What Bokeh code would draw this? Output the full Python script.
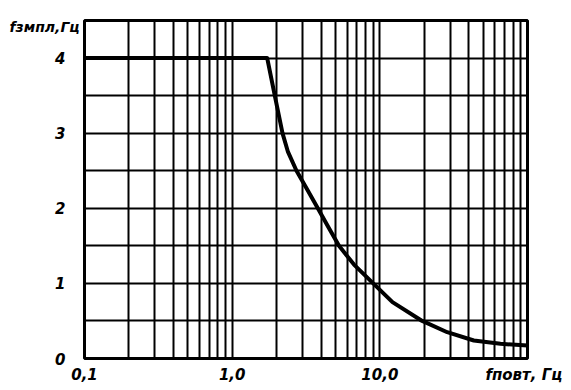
from bokeh.plotting import figure
from bokeh.models import FixedTicker
from bokeh.embed import file_html
from bokeh.resources import INLINE

# repetition frequency, Hz (log axis)
f_povt = [0.1, 1.727, 1.944, 2.192, 2.388, 2.727, 3.223, 3.802, 4.477, 5.289,
          6.683, 9.016, 12.18, 19.36, 28.6, 43.3, 65.6, 100.0]
# resulting frequency, Hz
f_zmpl = [4.0, 4.0, 3.5, 3.0, 2.75, 2.5, 2.25, 2.0, 1.75, 1.5,
          1.25, 1.0, 0.75, 0.5, 0.35, 0.24, 0.196, 0.173]

x_major = [0.1, 1, 10, 100]
x_minor = [0.2, 0.3, 0.4, 0.5, 0.6, 0.7, 0.8, 0.9,
           2, 3, 4, 5, 6, 7, 8, 9,
           20, 30, 40, 50, 60, 70, 80, 90]
x_tick_labels = {0.1: "0,1", 1: "1,0", 10: "10,0"}
y_major = [0, 1, 2, 3, 4]
y_minor = [0.5, 1.5, 2.5, 3.5, 4.5]
y_tick_labels = {0: "0", 1: "1", 2: "2", 3: "3", 4: "4"}
x_title = "fповт, Гц"
x_title_at = 94.5          # where the x title sits along the axis
y_title = "fзмпл,Гц"

FONT = "DejaVu Sans"

p = figure(width=570, height=388, x_axis_type="log",
           x_range=(0.1, 100), y_range=(0, 4.5),
           output_backend="svg", toolbar_location=None,
           min_border_left=84, min_border_right=43,
           min_border_top=20, min_border_bottom=30)
p.background_fill_color = "white"
p.border_fill_color = "white"
p.outline_line_color = "black"
p.outline_line_width = 3

# grid: every 1..9 per decade, every 0.5 vertically
p.xgrid.ticker = FixedTicker(ticks=x_major, minor_ticks=x_minor)
p.ygrid.ticker = FixedTicker(ticks=y_major, minor_ticks=y_minor)
for g in (p.xgrid, p.ygrid):
    g.grid_line_color = "black"
    g.grid_line_width = 2
    g.grid_line_alpha = 1
    g.minor_grid_line_color = "black"
    g.minor_grid_line_width = 2

# axes: labels only
p.xaxis.ticker = FixedTicker(ticks=x_major[:3] + [x_title_at])
p.yaxis.ticker = FixedTicker(ticks=y_major)
for ax in (p.xaxis, p.yaxis):
    ax.axis_line_color = None
    ax.major_tick_line_color = None
    ax.minor_tick_line_color = None
    ax.major_label_text_font = FONT
    ax.major_label_text_font_style = "bold italic"
    ax.major_label_text_color = "black"
    ax.major_label_text_font_size = "15px"

xl = dict(x_tick_labels)
xl[x_title_at] = x_title
p.xaxis.major_label_overrides = xl
p.yaxis.major_label_overrides = y_tick_labels
p.xaxis.major_label_standoff = 1
p.yaxis.major_label_standoff = 13

# y title
p.title.text = y_title
p.title.align = "left"
p.title.offset = -75
p.title.text_font = FONT
p.title.text_font_style = "bold italic"
p.title.text_font_size = "14px"
p.title.text_color = "black"
p.title.standoff = -28

p.line(f_povt, f_zmpl, line_color="black", line_width=4, line_join="round")

open("out.html", "w").write(file_html(p, INLINE))
